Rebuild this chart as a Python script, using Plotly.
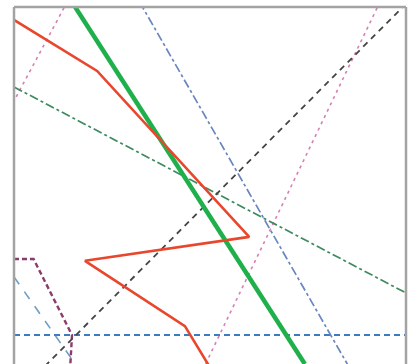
import plotly.graph_objects as go

# Polyline vertices in chart units (x: 0-100 across, y: 0-100 up)
red_x = [0.0, 21.2, 60.0, 18.1, 43.6, 49.8]
red_y = [96.4, 82.1, 35.6, 28.9, 10.6, -0.6]

green_x = [15.6, 74.2]
green_y = [100.0, 0.0]

black_x = [5.9, 101.0]
black_y = [-2.8, 102.0]

blue_dd_x = [32.0, 85.8]
blue_dd_y = [101.5, -1.5]

green_dd_x = [0.0, 100.0]
green_dd_y = [77.6, 19.9]

pink_r_x = [93.4, 48.2]
pink_r_y = [101.5, -1.5]
pink_l_x = [13.6, 0.0]
pink_l_y = [101.5, 73.7]

maroon_x = [0.0, 5.0, 14.8, 14.3]
maroon_y = [29.4, 29.4, 8.1, -1.5]

lightblue_x = [0.0, 16.6]
lightblue_y = [24.4, -1.5]

hline_x = [0.0, 100.0]
hline_y = [8.1, 8.1]

series = [
    (hline_x, hline_y, "#3b7bbf", 2.0, "6px,4px"),
    (lightblue_x, lightblue_y, "#6f9dc4", 1.6, "dash"),
    (maroon_x, maroon_y, "#8b3c6e", 2.4, "5px,3px"),
    (pink_l_x, pink_l_y, "#d67fb2", 1.6, "3px,4px"),
    (pink_r_x, pink_r_y, "#d67fb2", 1.6, "3px,4px"),
    (green_dd_x, green_dd_y, "#3d8a5e", 1.7, "dashdot"),
    (blue_dd_x, blue_dd_y, "#6a86c0", 1.7, "dashdot"),
    (black_x, black_y, "#444444", 1.8, "6px,5px"),
    (green_x, green_y, "#1fb04b", 4.5, "solid"),
    (red_x, red_y, "#e8472e", 2.6, "solid"),
]

fig = go.Figure()
for xs, ys, color, width, dash in series:
    fig.add_trace(go.Scatter(x=xs, y=ys, mode="lines",
                             line=dict(color=color, width=width, dash=dash),
                             hoverinfo="skip", showlegend=False))

frame = dict(type="line", xref="paper", yref="paper",
             line=dict(color="#a3a3a3", width=2.5))
fig.update_layout(
    width=410, height=364,
    margin=dict(l=14, r=4, t=7, b=0),
    paper_bgcolor="white", plot_bgcolor="white",
    xaxis=dict(range=[0, 100], visible=False, fixedrange=True),
    yaxis=dict(range=[0, 100], visible=False, fixedrange=True),
    shapes=[
        dict(frame, x0=0, x1=0, y0=0, y1=1),
        dict(frame, x0=0, x1=1, y0=1, y1=1),
        dict(frame, x0=1, x1=1, y0=0, y1=1),
    ],
)
fig.write_html("out.html")
